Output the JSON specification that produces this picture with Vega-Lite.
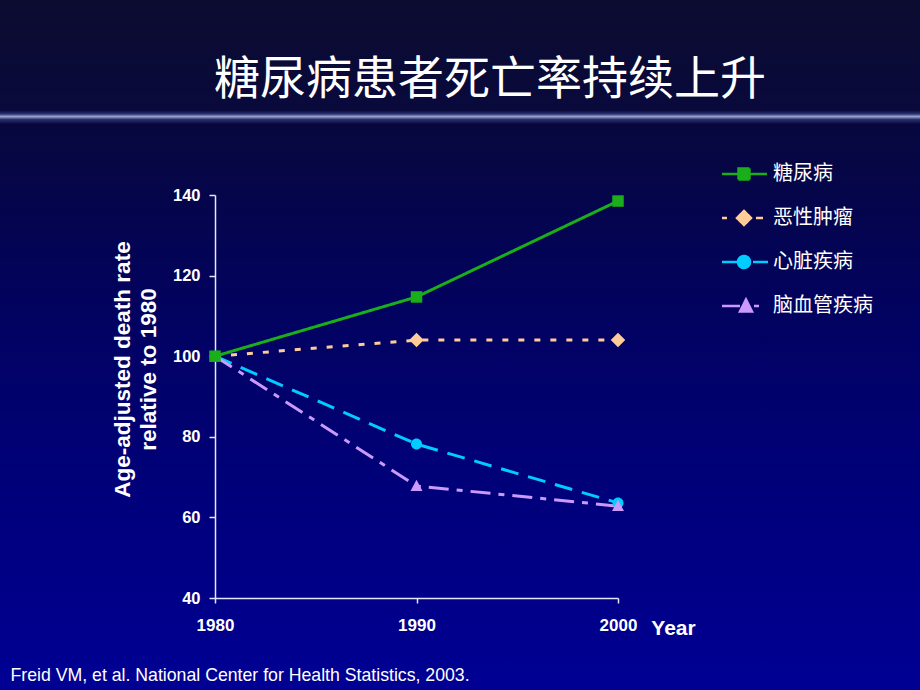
{
  "$schema": "https://vega.github.io/schema/vega-lite/v6.json",
  "width": 920,
  "height": 690,
  "autosize": "none",
  "padding": 0,
  "background": "#00004a",
  "title": {
    "text": "糖尿病患者死亡率持续上升",
    "font": "Noto Sans CJK SC",
    "fontSize": 46,
    "fontWeight": "normal",
    "color": "white",
    "anchor": "middle",
    "dx": 30,
    "offset": -104
  },
  "data": {
    "values": [
      {"series": "心脏疾病", "year": 1980, "value": 100},
      {"series": "心脏疾病", "year": 1990, "value": 78.2},
      {"series": "心脏疾病", "year": 2000, "value": 63.6},
      {"series": "脑血管疾病", "year": 1980, "value": 100},
      {"series": "脑血管疾病", "year": 1990, "value": 67.8},
      {"series": "脑血管疾病", "year": 2000, "value": 62.8},
      {"series": "恶性肿瘤", "year": 1980, "value": 100},
      {"series": "恶性肿瘤", "year": 1990, "value": 104},
      {"series": "恶性肿瘤", "year": 2000, "value": 104},
      {"series": "糖尿病", "year": 1980, "value": 100},
      {"series": "糖尿病", "year": 1990, "value": 114.7},
      {"series": "糖尿病", "year": 2000, "value": 138.5}
    ]
  },
  "layer": [
    {
      "mark": {"type": "line", "strokeWidth": 3},
      "encoding": {
        "x": {
          "field": "year",
          "type": "quantitative",
          "scale": {"domain": [1980, 2000], "range": [215, 618]},
          "axis": {
            "orient": "bottom",
            "offset": -92,
            "values": [1980, 1990, 2000],
            "format": "d",
            "grid": false,
            "labelFont": "Liberation Sans",
            "labelFontWeight": "bold",
            "labelFontSize": 17,
            "labelColor": "white",
            "labelPadding": 14,
            "labelFlush": false,
            "labelOverlap": false,
            "tickColor": "#e6e6ff",
            "tickSize": 5,
            "tickWidth": 1.5,
            "domainColor": "#e6e6ff",
            "domainWidth": 1.5,
            "title": "Year",
            "titleFont": "Liberation Sans",
            "titleFontWeight": "bold",
            "titleFontSize": 21,
            "titleColor": "white",
            "titleX": 673,
            "titleY": 36,
            "titleAlign": "center",
            "titleBaseline": "alphabetic"
          }
        },
        "y": {
          "field": "value",
          "type": "quantitative",
          "scale": {"domain": [40, 140], "range": [598, 195], "nice": false, "zero": false},
          "axis": {
            "orient": "left",
            "offset": -215,
            "values": [40, 60, 80, 100, 120, 140],
            "grid": false,
            "labelFont": "Liberation Sans",
            "labelFontWeight": "bold",
            "labelFontSize": 16.5,
            "labelColor": "white",
            "labelPadding": 9,
            "labelFlush": false,
            "labelOverlap": false,
            "tickColor": "#e6e6ff",
            "tickSize": 6,
            "tickWidth": 1.5,
            "domainColor": "#e6e6ff",
            "domainWidth": 1.5,
            "title": ["Age-adjusted death rate", "relative to 1980"],
            "titleFont": "Liberation Sans",
            "titleFontWeight": "bold",
            "titleFontSize": 22.5,
            "titleLineHeight": 26,
            "titleColor": "white",
            "titlePadding": 12,
            "titleY": 369
          }
        },
        "color": {
          "field": "series",
          "type": "nominal",
          "scale": {
            "domain": ["糖尿病", "恶性肿瘤", "心脏疾病", "脑血管疾病"],
            "range": ["#1aae1a", "#ffcc99", "#00ccff", "#cc99ff"]
          },
          "legend": {
            "title": null,
            "orient": "none",
            "legendX": 734,
            "legendY": 164,
            "padding": 0,
            "labelFont": "Noto Sans CJK SC",
            "labelFontSize": 20,
            "labelColor": "white",
            "labelOffset": 19,
            "rowPadding": 21,
            "symbolSize": 100,
            "symbolStrokeWidth": 2.5,
            "encode": {
              "symbols": {
                "update": {
                  "shape": {"signal": "datum.value === '糖尿病' ? 'M-4.4,0H-1.1M1.1,0H4.6M-1.1,-1.1H1.1V1.1H-1.1Z' : datum.value === '恶性肿瘤' ? 'M-4.4,0H-3.4M2.4,0H3.8M0,-1.4L1.4,0L0,1.4L-1.4,0Z' : datum.value === '心脏疾病' ? 'M-4.4,0H-1.2M1.8,0H4.8M-1.2,0A1.2,1.2,0,1,1,1.2,0A1.2,1.2,0,1,1,-1.2,0Z' : 'M-4.4,0H-0.8M2,0H3M-0.8,1.1L0.4,-1.3L1.6,1.1Z'"},
                  "fill": {"signal": "scale('color', datum.value)"},
                  "stroke": {"signal": "scale('color', datum.value)"},
                  "strokeWidth": {"value": 2.5},
                  "strokeDash": {"value": [1, 0]},
                  "opacity": {"value": 1},
                  "size": {"value": 100}
                }
              }
            }
          }
        },
        "strokeDash": {
          "field": "series",
          "type": "nominal",
          "scale": {
            "range": [[18, 10], [6, 10], [1, 0], [20, 8, 6, 8]]
          },
          "legend": null
        }
      }
    },
    {
      "transform": [{"filter": "datum.year != 1980 || datum.series == '糖尿病'"}],
      "mark": {"type": "point", "filled": true, "opacity": 1, "size": 100},
      "encoding": {
        "x": {"field": "year", "type": "quantitative"},
        "y": {
          "field": "value",
          "type": "quantitative",
          "axis": {
            "orient": "right",
            "domain": false,
            "ticks": false,
            "labels": false,
            "grid": false,
            "title": "Freid VM, et al. National Center for Health Statistics, 2003.",
            "titleAngle": 0,
            "titleX": -910,
            "titleY": 680,
            "titleAlign": "left",
            "titleBaseline": "alphabetic",
            "titleFont": "Liberation Sans",
            "titleFontSize": 17.7,
            "titleFontWeight": "normal",
            "titleColor": "white"
          }
        },
        "fill": {
          "field": "series",
          "type": "nominal",
          "scale": {"range": ["#00ccff", "#ffcc99", "#1aae1a", "#cc99ff"]},
          "legend": null
        },
        "shape": {
          "field": "series",
          "type": "nominal",
          "scale": {
            "range": [
              "M-1.1,0A1.1,1.1,0,1,1,1.1,0A1.1,1.1,0,1,1,-1.1,0Z",
              "M0,-1.45L1.45,0L0,1.45L-1.45,0Z",
              "M-1.15,-1.15H1.15V1.15H-1.15Z",
              "M0,-1.25L1.2,1.0L-1.2,1.0Z"
            ]
          },
          "legend": null
        }
      }
    }
  ],
  "resolve": {"scale": {"y": "shared"}, "axis": {"y": "independent"}},
  "config": {
    "view": {
      "stroke": null,
      "fill": {
        "gradient": "linear",
        "x1": 0, "y1": 0, "x2": 0, "y2": 1,
        "stops": [
          {"offset": 0, "color": "#0c0c30"},
          {"offset": 0.16, "color": "#09093c"},
          {"offset": 0.165, "color": "#2a3070"},
          {"offset": 0.169, "color": "#9aa4d0"},
          {"offset": 0.173, "color": "#2a3070"},
          {"offset": 0.18, "color": "#07073e"},
          {"offset": 0.45, "color": "#020260"},
          {"offset": 0.75, "color": "#00007e"},
          {"offset": 1, "color": "#000094"}
        ]
      }
    }
  }
}
